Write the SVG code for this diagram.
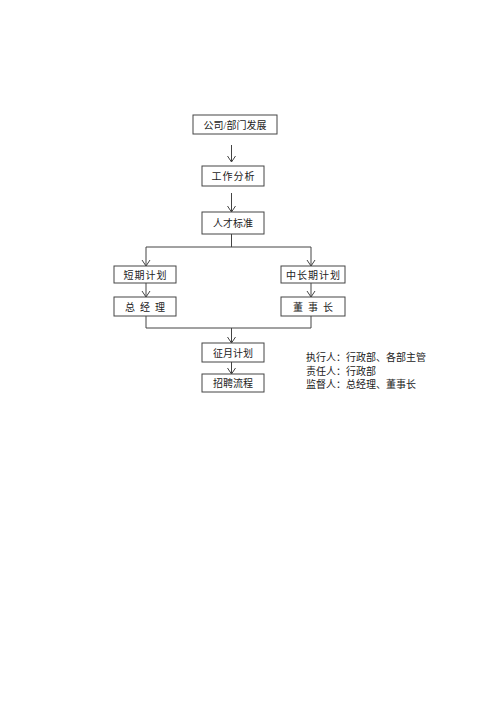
<svg xmlns="http://www.w3.org/2000/svg" width="500" height="707" viewBox="0 0 500 707">
<style>
.box{fill:#fff;stroke:#444;stroke-width:1}
.t{font-family:"Liberation Serif","Noto Sans CJK SC",serif;font-size:10px;fill:#222;text-anchor:middle}
.n{font-family:"Liberation Serif","Noto Sans CJK SC",serif;font-size:10px;fill:#222}
.c{fill:none;stroke:#444;stroke-width:1}
</style>
<defs>
<marker id="ah" markerWidth="10" markerHeight="10" refX="8.5" refY="5" orient="auto" markerUnits="userSpaceOnUse" viewBox="0 0 10 10">
<polyline points="2.5,1 8.5,5 2.5,9" fill="none" stroke="#444" stroke-width="1"/>
</marker>
</defs>
<rect width="500" height="707" fill="#fff"/>
<g id="connectors">
<line class="c" x1="231.5" y1="145" x2="231.5" y2="162" marker-end="url(#ah)"/>
<line class="c" x1="231.5" y1="193" x2="231.5" y2="212" marker-end="url(#ah)"/>
<polyline class="c" points="231.5,234 231.5,247"/>
<polyline class="c" points="146,247 311,247"/>
<line class="c" x1="146" y1="247" x2="146" y2="266" marker-end="url(#ah)"/>
<line class="c" x1="311" y1="247" x2="311" y2="266" marker-end="url(#ah)"/>
<line class="c" x1="146" y1="283" x2="146" y2="297" marker-end="url(#ah)"/>
<line class="c" x1="311" y1="283" x2="311" y2="297" marker-end="url(#ah)"/>
<polyline class="c" points="146,316 146,328 311,328 311,316"/>
<line class="c" x1="231.5" y1="328" x2="231.5" y2="343" marker-end="url(#ah)"/>
<line class="c" x1="231.5" y1="362" x2="231.5" y2="374" marker-end="url(#ah)"/>
</g>
<g id="n1"><rect class="box" x="193" y="115" width="84" height="19"/><text class="t" x="235" y="128.5">公司/部门发展</text></g>
<g id="n2"><rect class="box" x="202" y="166" width="62" height="20"/><text class="t" x="233.5" y="180" letter-spacing="1">工作分析</text></g>
<g id="n3"><rect class="box" x="202" y="212" width="62" height="22"/><text class="t" x="233" y="227">人才标准</text></g>
<g id="n4"><rect class="box" x="114" y="266" width="62" height="17"/><text class="t" x="145.5" y="278.5" letter-spacing="1">短期计划</text></g>
<g id="n5"><rect class="box" x="114" y="297" width="62" height="19"/><text class="t" x="147.5" y="310.5" letter-spacing="5">总经理</text></g>
<g id="n6"><rect class="box" x="281" y="266" width="64" height="17"/><text class="t" x="313.5" y="278.5" letter-spacing="1">中长期计划</text></g>
<g id="n7"><rect class="box" x="281" y="297" width="64" height="19"/><text class="t" x="315.5" y="310.5" letter-spacing="5">董事长</text></g>
<g id="n8"><rect class="box" x="202" y="343" width="62" height="19"/><text class="t" x="233" y="356.5">征月计划</text></g>
<g id="n9"><rect class="box" x="202" y="374" width="62" height="18"/><text class="t" x="233" y="387">招聘流程</text></g>
<g id="note">
<text class="n" x="306" y="361">执行人：行政部、各部主管</text>
<text class="n" x="306" y="374.5">责任人：行政部</text>
<text class="n" x="306" y="388">监督人：总经理、董事长</text>
</g>
</svg>
